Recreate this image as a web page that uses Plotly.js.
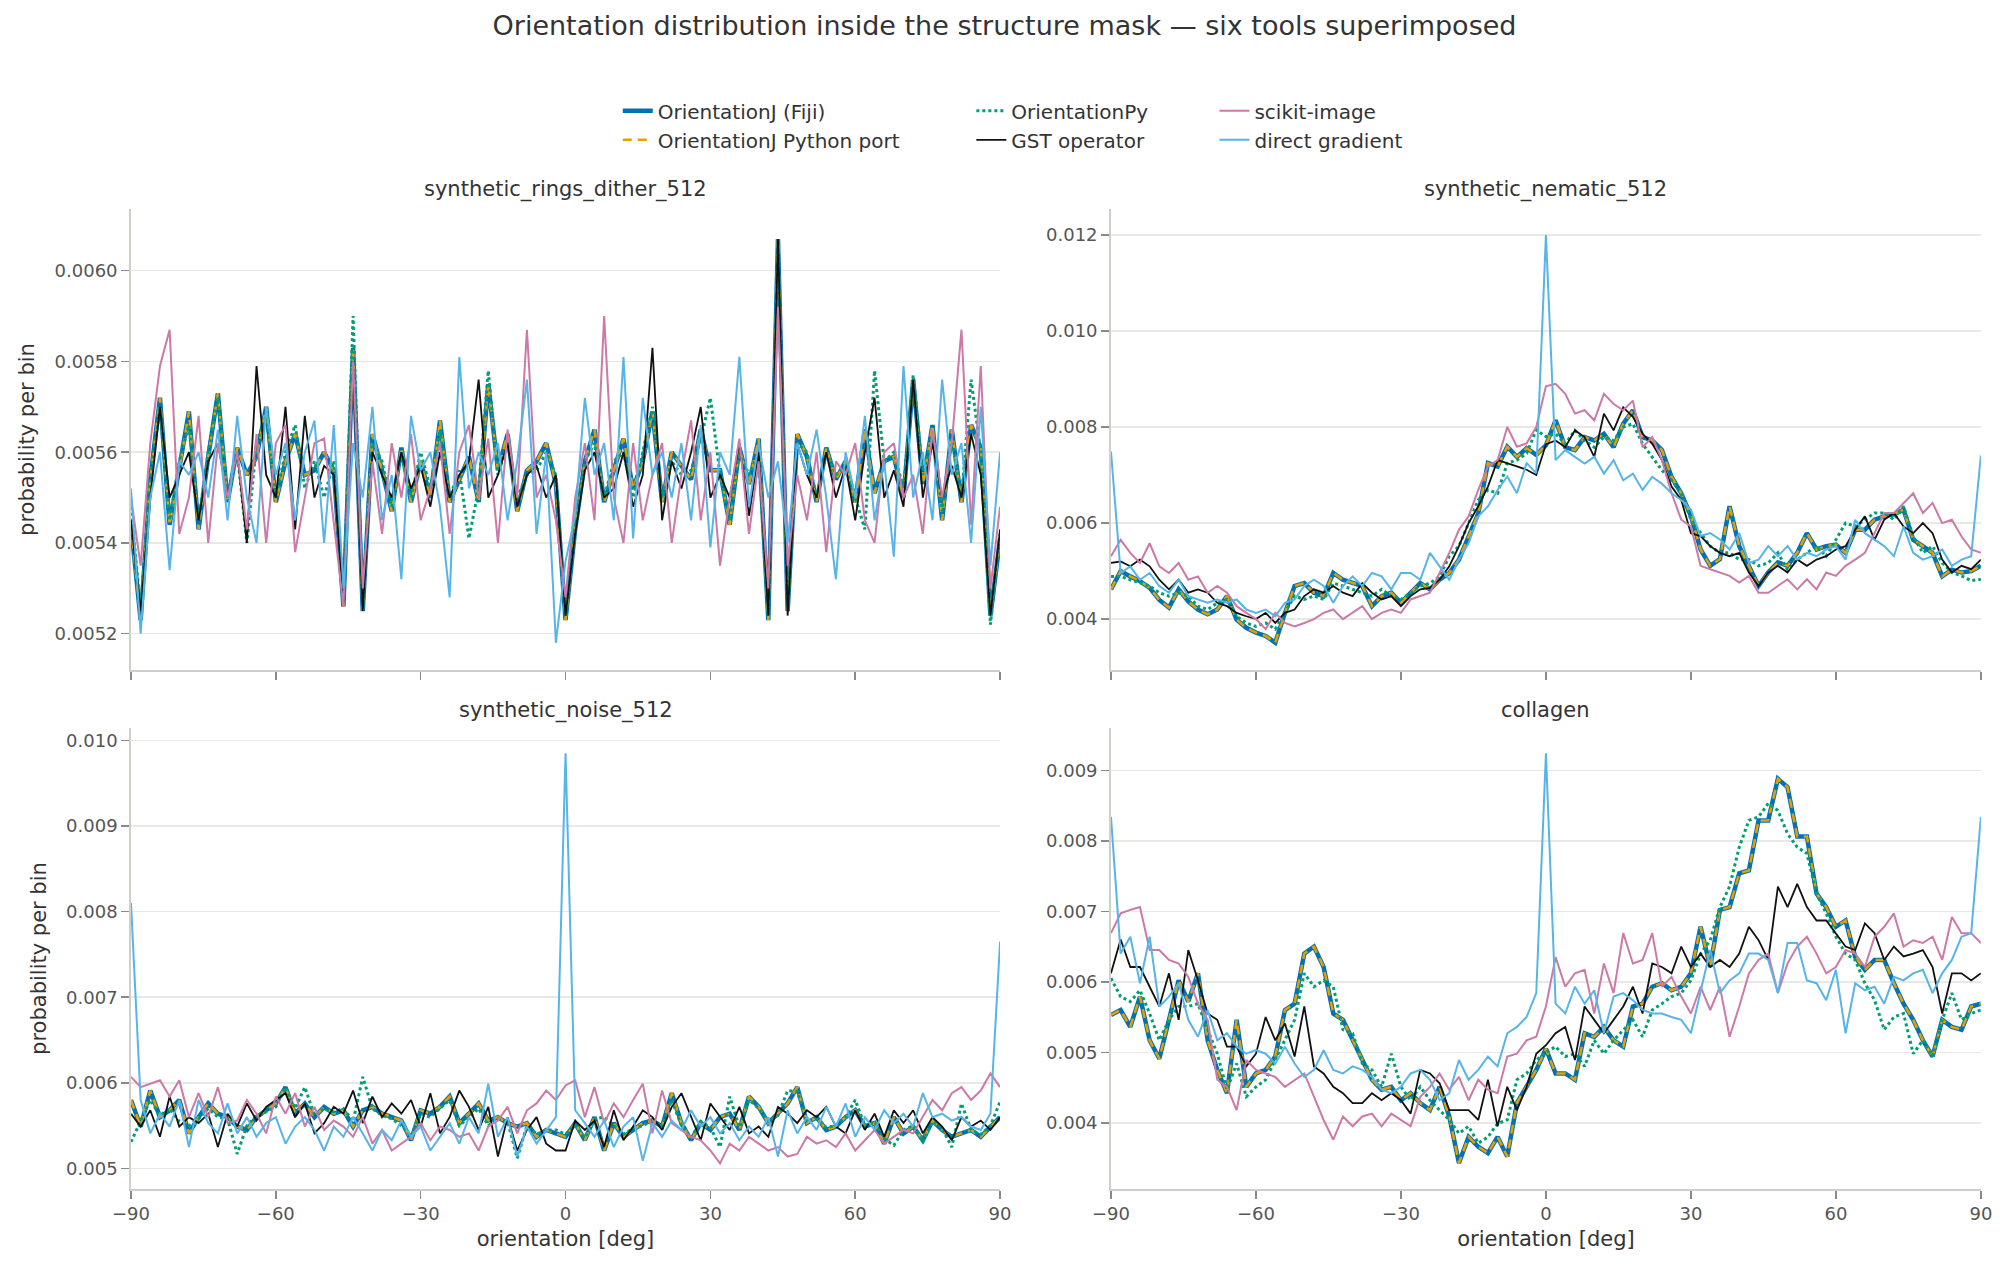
<!DOCTYPE html>
<html>
<head>
<meta charset="utf-8">
<script src="https://cdn.plot.ly/plotly-3.0.1.min.js"></script>
<style>
  html, body { margin: 0; padding: 0; background: #fff; }
  #chart { width: 2009px; height: 1269px; }
</style>
</head>
<body>
<div id="chart"></div>
<script>
// orientation bins, 2 deg apart
const angles = [];
for (let a = -90; a <= 90; a += 2) angles.push(a);

// all series in units of 1e-3 (probability per bin)
// --- synthetic_rings_dither_512
const ringsFiji = [
  5.44,5.23,5.54,5.72,5.44,5.56,5.69,5.43,5.59,5.73,
  5.49,5.61,5.55,5.59,5.70,5.49,5.58,5.64,5.55,5.56,
  5.60,5.56,5.26,5.83,5.25,5.64,5.56,5.47,5.61,5.49,
  5.58,5.50,5.67,5.49,5.54,5.59,5.49,5.75,5.56,5.64,
  5.47,5.56,5.58,5.62,5.53,5.23,5.43,5.58,5.65,5.49,
  5.56,5.63,5.52,5.58,5.69,5.49,5.60,5.57,5.54,5.65,
  5.56,5.56,5.44,5.61,5.53,5.63,5.23,6.07,5.25,5.64,
  5.59,5.49,5.61,5.54,5.58,5.49,5.65,5.51,5.58,5.59,
  5.50,5.76,5.53,5.66,5.45,5.65,5.49,5.66,5.61,5.24,
  5.41];
const ringsPort = ringsFiji; // the port sits exactly on top of Fiji
const ringsPy = [
  5.48,5.25,5.55,5.70,5.45,5.58,5.66,5.45,5.60,5.72,
  5.50,5.60,5.40,5.62,5.68,5.50,5.60,5.66,5.52,5.58,
  5.50,5.58,5.27,5.90,5.26,5.62,5.58,5.48,5.60,5.50,
  5.60,5.52,5.65,5.50,5.56,5.41,5.52,5.78,5.55,5.62,
  5.50,5.55,5.56,5.60,5.55,5.24,5.45,5.58,5.62,5.50,
  5.58,5.60,5.50,5.60,5.70,5.50,5.58,5.55,5.56,5.63,
  5.72,5.55,5.45,5.60,5.55,5.60,5.24,6.05,5.25,5.62,
  5.60,5.50,5.60,5.55,5.57,5.50,5.43,5.78,5.58,5.60,
  5.52,5.77,5.55,5.64,5.47,5.63,5.50,5.76,5.60,5.22,
  5.42];
const ringsGst = [
  5.45,5.25,5.50,5.70,5.50,5.55,5.60,5.45,5.58,5.62,
  5.50,5.60,5.40,5.79,5.55,5.50,5.70,5.43,5.68,5.50,
  5.57,5.55,5.27,5.79,5.25,5.60,5.55,5.50,5.60,5.52,
  5.57,5.48,5.60,5.50,5.55,5.58,5.76,5.50,5.55,5.62,
  5.48,5.55,5.57,5.50,5.55,5.24,5.42,5.56,5.60,5.50,
  5.52,5.60,5.48,5.55,5.83,5.45,5.58,5.52,5.60,5.70,
  5.50,5.55,5.50,5.62,5.46,5.60,5.24,6.07,5.24,5.62,
  5.55,5.50,5.60,5.50,5.57,5.45,5.60,5.72,5.50,5.56,
  5.48,5.76,5.50,5.62,5.50,5.57,5.50,5.64,5.55,5.24,
  5.43];
const ringsSkimage = [
  5.50,5.35,5.62,5.79,5.87,5.42,5.50,5.68,5.40,5.62,
  5.50,5.60,5.43,5.64,5.40,5.62,5.66,5.38,5.50,5.62,
  5.63,5.45,5.26,5.80,5.30,5.58,5.42,5.62,5.50,5.64,
  5.45,5.52,5.62,5.42,5.60,5.66,5.50,5.63,5.40,5.65,
  5.50,5.87,5.50,5.55,5.45,5.28,5.50,5.62,5.45,5.90,
  5.50,5.40,5.62,5.45,5.55,5.62,5.40,5.55,5.67,5.45,
  5.60,5.35,5.50,5.63,5.42,5.58,5.30,5.92,5.35,5.55,
  5.45,5.60,5.38,5.58,5.55,5.62,5.45,5.40,5.60,5.62,
  5.50,5.55,5.42,5.65,5.50,5.62,5.87,5.44,5.79,5.30,
  5.48];
const ringsDirect = [
  5.52,5.20,5.50,5.60,5.34,5.58,5.55,5.60,5.50,5.65,
  5.45,5.68,5.50,5.40,5.70,5.55,5.62,5.45,5.60,5.67,
  5.40,5.66,5.30,5.62,5.50,5.70,5.45,5.55,5.32,5.68,
  5.56,5.60,5.48,5.28,5.81,5.52,5.60,5.55,5.62,5.45,
  5.58,5.76,5.42,5.60,5.18,5.36,5.46,5.72,5.55,5.62,
  5.45,5.81,5.41,5.72,5.55,5.60,5.50,5.62,5.45,5.66,
  5.39,5.60,5.55,5.81,5.48,5.62,5.50,5.58,5.40,5.62,
  5.55,5.65,5.50,5.32,5.60,5.50,5.68,5.45,5.58,5.37,
  5.79,5.50,5.60,5.45,5.76,5.55,5.62,5.40,5.70,5.35,
  5.60];

// --- synthetic_nematic_512
const nemFiji = [
  4.62,5.00,4.89,4.79,4.65,4.40,4.24,4.62,4.37,4.20,
  4.10,4.20,4.48,3.99,3.82,3.72,3.65,3.51,4.13,4.69,
  4.75,4.55,4.48,4.96,4.82,4.75,4.69,4.27,4.48,4.55,
  4.34,4.55,4.75,4.62,4.82,4.96,5.24,5.72,6.20,7.25,
  7.18,7.59,7.38,7.56,7.42,7.62,8.14,7.58,7.52,7.79,
  7.72,7.86,7.58,8.07,8.35,7.79,7.72,7.52,6.96,6.62,
  6.15,5.45,5.11,5.25,6.35,5.52,5.11,4.69,4.97,5.18,
  5.11,5.38,5.79,5.45,5.52,5.55,5.38,5.86,5.86,6.07,
  6.14,6.18,6.28,5.65,5.52,5.38,4.89,5.03,4.97,5.00,
  5.11];
const nemPort = nemFiji;
const nemPy = [
  4.89,4.89,4.82,4.75,4.69,4.55,4.48,4.55,4.48,4.27,
  4.20,4.34,4.41,4.06,3.92,3.85,3.92,3.79,4.13,4.48,
  4.41,4.48,4.41,4.75,4.69,4.62,4.55,4.48,4.62,4.48,
  4.41,4.55,4.69,4.75,4.89,5.31,5.52,6.00,6.48,6.69,
  6.62,7.25,7.31,7.45,7.94,7.80,7.86,7.65,7.93,7.72,
  7.58,7.79,7.72,8.00,8.07,7.65,7.38,7.10,6.89,6.62,
  6.07,5.79,5.52,5.38,5.38,5.24,5.24,5.11,5.17,5.38,
  5.03,5.24,5.38,5.52,5.31,5.66,6.00,5.93,6.07,6.21,
  6.21,6.07,6.35,5.72,5.38,5.52,5.17,4.97,4.90,4.80,
  4.83];
const nemGst = [
  5.17,5.20,5.10,5.24,5.10,4.82,4.62,4.82,4.55,4.62,
  4.55,4.34,4.27,4.13,4.06,4.00,4.13,3.92,4.13,4.20,
  4.48,4.62,4.55,4.69,4.55,4.48,4.75,4.55,4.41,4.48,
  4.27,4.48,4.62,4.65,4.82,5.10,5.52,6.00,6.35,6.76,
  7.31,7.25,7.18,7.11,7.00,7.64,7.72,7.58,7.93,7.79,
  7.38,8.28,7.93,8.41,8.21,7.86,7.65,7.31,6.76,6.48,
  5.79,5.73,5.52,5.38,5.31,5.38,4.97,4.69,4.97,5.11,
  4.97,5.24,5.11,5.24,5.31,5.45,5.52,5.86,6.14,5.65,
  6.07,6.21,5.93,5.79,6.00,5.79,5.24,4.97,5.11,5.04,
  5.24];
const nemSkimage = [
  5.31,5.65,5.38,5.17,5.58,5.10,4.96,5.17,4.82,4.89,
  4.55,4.69,4.55,4.27,4.13,4.00,3.79,4.13,3.92,3.85,
  3.92,4.00,4.13,4.20,4.00,4.13,4.27,4.00,4.13,4.20,
  4.13,4.41,4.48,4.55,4.96,5.38,5.86,6.14,6.69,7.18,
  7.31,8.00,7.59,7.66,8.00,8.85,8.90,8.69,8.28,8.35,
  8.14,8.69,8.48,8.35,8.55,7.58,7.79,7.31,6.62,6.07,
  5.93,5.11,5.04,4.97,4.90,4.76,4.90,4.55,4.55,4.69,
  4.83,4.62,4.83,4.62,4.97,4.90,5.11,5.24,5.38,5.79,
  6.21,6.21,6.42,6.62,6.21,6.42,6.00,6.07,5.72,5.45,
  5.38];
const nemDirect = [
  7.49,4.96,5.10,4.82,4.96,4.69,4.55,4.82,4.48,4.41,
  4.34,4.41,4.34,4.41,4.20,4.13,4.20,4.06,4.34,4.41,
  4.69,4.82,4.69,4.34,4.69,4.89,4.69,4.96,4.89,4.62,
  4.96,4.96,4.82,5.38,5.10,4.82,5.24,5.58,6.14,6.35,
  6.69,6.97,6.62,7.25,7.04,12.00,7.31,7.52,7.38,7.24,
  7.38,7.03,7.31,6.89,7.03,6.69,6.96,6.82,6.62,6.48,
  6.28,5.73,5.79,5.66,5.45,5.79,5.17,5.24,5.52,5.31,
  5.52,5.24,5.38,5.31,5.45,5.52,5.24,6.07,5.79,5.66,
  5.52,5.31,5.93,5.38,5.24,5.31,5.45,5.11,5.24,5.31,
  7.41];

// --- synthetic_noise_512
const noiseFiji = [
  5.80,5.49,5.91,5.60,5.68,5.80,5.41,5.60,5.76,5.64,
  5.60,5.49,5.45,5.60,5.68,5.76,5.95,5.64,5.76,5.60,
  5.72,5.64,5.68,5.49,5.68,5.72,5.64,5.60,5.56,5.33,
  5.68,5.64,5.72,5.84,5.53,5.64,5.76,5.56,5.60,5.53,
  5.49,5.53,5.37,5.45,5.41,5.37,5.53,5.33,5.60,5.21,
  5.53,5.37,5.45,5.53,5.56,5.49,5.88,5.53,5.33,5.53,
  5.45,5.60,5.64,5.45,5.84,5.72,5.53,5.64,5.76,5.95,
  5.53,5.60,5.45,5.49,5.60,5.68,5.49,5.53,5.29,5.60,
  5.41,5.49,5.33,5.56,5.45,5.37,5.41,5.45,5.37,5.49,
  5.60];
const noisePort = noiseFiji;
const noisePy = [
  5.31,5.55,5.80,5.62,5.70,5.55,5.50,5.58,5.70,5.60,
  5.58,5.17,5.50,5.62,5.66,5.72,5.95,5.70,5.95,5.62,
  5.70,5.66,5.70,5.55,6.07,5.70,5.62,5.58,5.50,5.38,
  5.64,5.60,5.70,5.80,5.50,5.60,5.70,5.50,5.58,5.55,
  5.12,5.50,5.40,5.45,5.45,5.40,5.50,5.36,5.58,5.60,
  5.50,5.40,5.47,5.50,5.56,5.50,5.80,5.50,5.36,5.55,
  5.48,5.25,5.84,5.48,5.80,5.70,5.55,5.62,5.91,5.90,
  5.55,5.58,5.48,5.50,5.60,5.80,5.50,5.55,5.35,5.27,
  5.45,5.50,5.31,5.55,5.47,5.25,5.76,5.45,5.40,5.50,
  5.78];
const noiseGst = [
  5.64,5.49,5.68,5.37,5.84,5.49,5.60,5.53,5.64,5.25,
  5.64,5.49,5.76,5.56,5.72,5.80,5.88,5.60,5.76,5.41,
  5.53,5.72,5.64,5.91,5.53,5.84,5.60,5.76,5.64,5.80,
  5.49,5.88,5.41,5.60,5.91,5.72,5.45,5.72,5.14,5.60,
  5.21,5.45,5.60,5.29,5.21,5.21,5.56,5.45,5.56,5.25,
  5.68,5.33,5.49,5.68,5.60,5.45,5.72,5.88,5.60,5.33,
  5.76,5.60,5.45,5.72,5.41,5.49,5.37,5.72,5.64,5.53,
  5.68,5.60,5.72,5.49,5.41,5.68,5.45,5.64,5.37,5.68,
  5.53,5.68,5.41,5.60,5.49,5.33,5.60,5.49,5.56,5.45,
  5.60];
const noiseSkimage = [
  6.07,5.95,5.99,6.03,5.84,6.03,5.60,5.88,5.60,5.95,
  5.53,5.56,5.80,5.64,5.41,5.84,5.64,5.88,5.49,5.72,
  5.45,5.56,5.49,5.37,5.60,5.29,5.45,5.21,5.29,5.37,
  5.53,5.33,5.49,5.45,5.37,5.41,5.21,5.49,5.56,5.72,
  5.41,5.68,5.76,5.91,5.80,5.97,6.03,5.60,5.95,5.53,
  5.76,5.60,5.80,5.99,5.41,5.91,5.53,5.45,5.37,5.33,
  5.21,5.06,5.29,5.21,5.37,5.29,5.21,5.25,5.14,5.17,
  5.37,5.29,5.33,5.25,5.41,5.21,5.33,5.45,5.29,5.37,
  5.45,5.41,5.60,5.80,5.68,5.88,5.95,5.80,5.91,6.11,
  5.95];
const noiseDirect = [
  8.10,5.80,5.41,5.64,5.49,5.80,5.25,5.80,5.53,5.41,
  5.76,5.41,5.60,5.37,5.53,5.60,5.29,5.49,5.60,5.45,
  5.21,5.49,5.37,5.60,5.41,5.21,5.45,5.33,5.56,5.37,
  5.49,5.21,5.37,5.53,5.29,5.60,5.41,5.99,5.37,5.60,
  5.14,5.49,5.29,5.45,5.60,9.85,5.68,5.53,5.37,5.56,
  5.25,5.49,5.60,5.09,5.53,5.37,5.56,5.45,5.68,5.49,
  5.60,5.41,5.53,5.33,5.49,5.37,5.60,5.14,5.68,5.41,
  5.60,5.45,5.72,5.49,5.76,5.37,5.60,5.45,5.68,5.53,
  5.64,5.49,5.88,5.60,5.64,5.56,5.60,5.49,5.45,5.64,
  7.65];

// --- collagen
const colFiji = [
  5.53,5.60,5.36,5.79,5.17,4.91,5.46,6.02,5.72,6.12,
  5.17,4.75,4.42,5.46,4.51,4.70,4.75,4.94,5.60,5.69,
  6.40,6.50,6.21,5.55,5.46,5.17,4.89,4.61,4.47,4.51,
  4.32,4.42,4.28,4.18,4.51,4.09,3.43,3.80,3.66,3.57,
  3.80,3.52,4.28,4.51,4.75,5.05,4.70,4.70,4.61,5.27,
  5.22,5.36,5.17,5.08,5.65,5.69,5.93,5.98,5.88,5.93,
  6.12,6.78,6.21,7.02,7.06,7.54,7.58,8.29,8.29,8.88,
  8.76,8.06,8.06,7.25,7.06,6.78,6.87,6.35,6.17,6.31,
  6.31,5.98,5.69,5.46,5.17,4.94,5.46,5.36,5.32,5.65,
  5.69];
const colPort = colFiji;
const colPy = [
  6.05,5.79,5.72,5.88,5.55,5.17,5.46,5.65,5.65,5.69,
  5.32,4.98,4.47,4.84,4.37,4.51,4.61,4.89,5.17,5.46,
  6.12,5.93,6.02,5.93,5.32,5.27,4.84,4.75,4.51,4.98,
  4.51,4.32,4.51,4.32,4.18,4.04,3.85,3.95,3.71,3.80,
  3.99,4.04,4.61,4.70,4.89,5.00,5.08,4.94,4.98,4.80,
  5.17,4.98,5.17,5.32,5.46,5.22,5.60,5.69,5.79,5.84,
  6.02,6.40,6.59,7.06,7.35,7.91,8.29,8.34,8.53,8.43,
  8.10,7.91,7.82,7.25,6.97,6.64,6.40,6.31,5.98,5.74,
  5.32,5.50,5.55,4.98,5.17,4.94,5.46,5.84,5.46,5.55,
  5.60];
const colGst = [
  6.12,6.60,6.21,6.21,5.93,5.65,6.12,5.46,6.45,6.02,
  5.55,5.46,5.08,5.08,4.80,4.98,5.50,5.17,5.41,4.94,
  5.65,4.80,4.70,4.51,4.42,4.28,4.28,4.42,4.32,4.42,
  4.32,4.13,4.75,4.70,4.56,4.18,4.18,4.18,4.04,4.61,
  3.95,4.51,4.18,4.51,4.98,5.10,5.27,5.36,4.89,5.65,
  5.46,5.27,5.46,5.65,5.93,5.55,6.26,6.21,6.12,6.50,
  6.21,6.40,6.21,6.31,6.21,6.40,6.78,6.59,6.31,7.35,
  7.06,7.39,7.06,6.87,6.87,6.69,6.50,6.45,6.83,6.69,
  6.31,6.50,6.36,6.40,6.45,6.21,5.55,6.12,6.12,6.02,
  6.12];
const colSkimage = [
  6.69,6.97,7.02,7.06,6.45,6.45,6.31,6.26,6.07,5.69,
  5.46,4.61,4.51,4.18,4.89,4.75,4.70,4.65,4.51,4.61,
  4.70,4.37,4.04,3.76,4.09,3.95,4.09,4.13,3.95,4.13,
  4.04,3.95,4.37,4.51,4.70,4.47,4.65,4.32,4.61,4.47,
  4.42,4.94,4.98,5.17,5.22,5.65,6.35,5.93,6.12,6.17,
  5.55,6.26,5.84,6.69,6.26,6.31,6.69,5.93,6.07,5.79,
  5.55,5.93,5.60,5.93,5.22,5.65,6.12,6.31,6.40,5.84,
  6.26,6.50,6.64,6.40,6.12,6.21,6.45,6.40,6.21,6.64,
  6.78,6.97,6.50,6.59,6.55,6.64,6.31,6.92,6.69,6.69,
  6.55];
const colDirect = [
  8.34,6.40,6.64,5.98,6.64,5.65,5.79,5.98,5.46,5.22,
  5.60,5.17,5.27,5.08,4.98,5.03,4.98,4.84,5.08,4.84,
  4.65,4.75,5.03,4.75,4.70,4.80,4.75,4.65,4.47,4.42,
  4.51,4.70,4.75,4.61,4.32,4.42,4.89,4.61,4.75,4.94,
  4.80,5.27,5.36,5.50,5.84,9.24,5.69,5.55,5.93,5.69,
  5.88,5.27,5.79,5.84,5.74,5.60,5.55,5.55,5.50,5.46,
  5.27,5.84,6.45,5.84,6.02,6.12,6.40,6.40,6.31,5.84,
  6.55,6.55,6.02,5.98,5.74,6.17,5.27,5.98,5.88,5.93,
  5.69,6.07,6.02,6.12,6.17,5.84,6.12,6.31,6.64,6.69,
  8.34];

const toolNames = ['OrientationJ (Fiji)', 'OrientationJ Python port', 'OrientationPy',
                   'GST operator', 'scikit-image', 'direct gradient'];
const toolStyles = [
  {color: '#0072B2', width: 4.5, dash: 'solid', legend: 'legend'},
  {color: '#E69F00', width: 2.5, dash: '9px,6px', legend: 'legend'},
  {color: '#009E73', width: 3, dash: 'dot', legend: 'legend2'},
  {color: '#111111', width: 1.8, dash: 'solid', legend: 'legend2'},
  {color: '#CC79A7', width: 2, dash: 'solid', legend: 'legend3'},
  {color: '#56B4E9', width: 2, dash: 'solid', legend: 'legend3'}
];

const panels = [
  {title: 'synthetic_rings_dither_512', ax: '', series: [ringsFiji, ringsPort, ringsPy, ringsGst, ringsSkimage, ringsDirect]},
  {title: 'synthetic_nematic_512', ax: '2', series: [nemFiji, nemPort, nemPy, nemGst, nemSkimage, nemDirect]},
  {title: 'synthetic_noise_512', ax: '3', series: [noiseFiji, noisePort, noisePy, noiseGst, noiseSkimage, noiseDirect]},
  {title: 'collagen', ax: '4', series: [colFiji, colPort, colPy, colGst, colSkimage, colDirect]}
];

const FONT = 'DejaVu Sans, Verdana, sans-serif';

const traces = [];
panels.forEach((p, pi) => {
  p.series.forEach((vals, ti) => {
    const st = toolStyles[ti];
    traces.push({
      x: angles,
      y: vals.map(v => v / 1000),
      type: 'scatter',
      mode: 'lines',
      name: toolNames[ti],
      legend: st.legend,
      showlegend: pi === 0,
      xaxis: 'x' + p.ax,
      yaxis: 'y' + p.ax,
      line: {color: st.color, width: st.width, dash: st.dash},
      hoverinfo: 'skip'
    });
  });
});

function xAxis(domain, labels, anchor) {
  return {
    domain: domain, anchor: anchor, range: [-90, 90],
    tickvals: [-90, -60, -30, 0, 30, 60, 90],
    showticklabels: labels,
    ticks: 'outside', ticklen: 8, tickwidth: 1.5, tickcolor: '#8a8a8a',
    showline: true, linecolor: '#d0d0cb', linewidth: 1.8,
    showgrid: false, zeroline: false,
    tickfont: {family: FONT, size: 18, color: '#555'},
    title: labels ? {text: 'orientation [deg]', font: {family: FONT, size: 21, color: '#333'}, standoff: 8} : {text: ''}
  };
}
function yAxis(domain, range, dtick, fmt, withTitle, anchor) {
  return {
    domain: domain, anchor: anchor, range: range, dtick: dtick, tick0: 0, tickformat: fmt,
    ticks: 'outside', ticklen: 8, tickwidth: 1.5, tickcolor: '#8a8a8a',
    showline: true, linecolor: '#d0d0cb', linewidth: 1.8,
    showgrid: true, gridcolor: '#e8e8e4', gridwidth: 1.5, zeroline: false,
    tickfont: {family: FONT, size: 18, color: '#555'},
    title: withTitle ? {text: 'probability per bin', font: {family: FONT, size: 21, color: '#333'}, standoff: 14} : {text: ''}
  };
}

const xL = [0.0652, 0.4978], xR = [0.553, 0.986];
const yT = [0.472, 0.8353], yB = [0.063, 0.4263];

const legendBase = {
  orientation: 'v', xanchor: 'left', yanchor: 'top', y: 0.928,
  bgcolor: 'rgba(0,0,0,0)', borderwidth: 0,
  font: {family: FONT, size: 20, color: '#333'}
};

const subTitle = (text, x, y) => ({
  text: text, x: x, y: y, xref: 'paper', yref: 'paper',
  xanchor: 'center', yanchor: 'middle', showarrow: false,
  font: {family: FONT, size: 21, color: '#333'}
});

const layout = {
  width: 2009, height: 1269,
  margin: {l: 0, r: 0, t: 0, b: 0},
  paper_bgcolor: '#fff', plot_bgcolor: '#fff',
  font: {family: FONT, color: '#333'},
  title: {
    text: 'Orientation distribution inside the structure mask — six tools superimposed',
    x: 0.5, xanchor: 'center', y: 0.9795, yanchor: 'middle',
    font: {family: FONT, size: 27, color: '#333'}
  },
  xaxis: xAxis(xL, false, 'y'),
  yaxis: yAxis(yT, [0.00512, 0.006136], 0.0002, '.4f', true, 'x'),
  xaxis2: xAxis(xR, false, 'y2'),
  yaxis2: yAxis(yT, [0.00294, 0.01254], 0.002, '.3f', false, 'x2'),
  xaxis3: xAxis(xL, true, 'y3'),
  yaxis3: yAxis(yB, [0.00476, 0.010144], 0.001, '.3f', true, 'x3'),
  xaxis4: xAxis(xR, true, 'y4'),
  yaxis4: yAxis(yB, [0.00306, 0.0096], 0.001, '.3f', false, 'x4'),
  legend: Object.assign({}, legendBase, {x: 0.3075}),
  legend2: Object.assign({}, legendBase, {x: 0.4835}),
  legend3: Object.assign({}, legendBase, {x: 0.6045}),
  annotations: [
    subTitle(panels[0].title, 0.2815, 0.8503),
    subTitle(panels[1].title, 0.7695, 0.8503),
    subTitle(panels[2].title, 0.2815, 0.4405),
    subTitle(panels[3].title, 0.7695, 0.4405)
  ],
  showlegend: true
};

Plotly.newPlot('chart', traces, layout, {displayModeBar: false, staticPlot: true});
</script>
</body>
</html>
